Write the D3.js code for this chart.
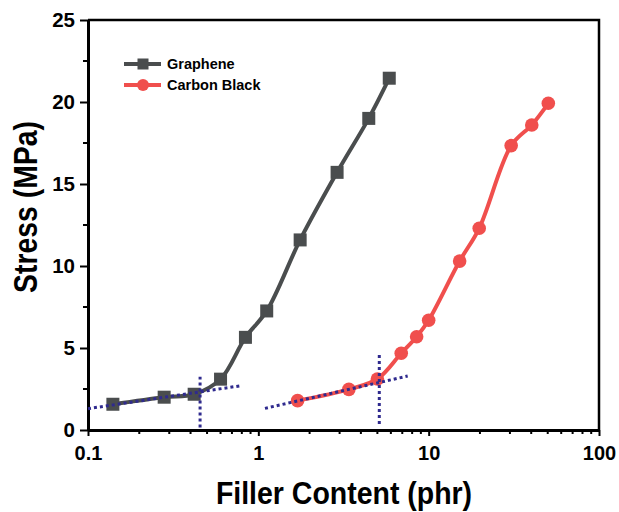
<!DOCTYPE html>
<html>
<head>
<meta charset="utf-8">
<script src="https://cdn.jsdelivr.net/npm/d3@7"></script>
<style>
  html, body { margin: 0; padding: 0; background: #fff; }
  svg { display: block; }
  text { font-family: "Liberation Sans", Arial, Helvetica, sans-serif; font-weight: bold; fill: #000; }
</style>
</head>
<body>
<svg id="chart" width="619" height="512"></svg>
<script>
// Filler content (phr) and tensile stress (MPa) for each filler
const grapheneX = [0.14, 0.28, 0.42, 0.6, 0.84, 1.12, 1.76, 2.9, 4.45, 5.87];
const grapheneY = [1.57, 2.0, 2.18, 3.1, 5.65, 7.26, 11.59, 15.71, 19.0, 21.45];
const carbonX = [1.7, 3.4, 5.0, 6.9, 8.5, 10, 15.2, 19.8, 30.5, 40.3, 50.4];
const carbonY = [1.79, 2.48, 3.11, 4.68, 5.69, 6.69, 10.3, 12.3, 17.34, 18.6, 19.92];

// Percolation guide lines: low-loading tangent and threshold marker
const grapheneTangent = [[0.1, 1.3], [0.79, 2.7]];
const grapheneThreshold = [[0.455, 0.16], [0.455, 3.25]];
const carbonTangent = [[1.094, 1.32], [7.53, 3.29]];
const carbonThreshold = [[5.13, 0.37], [5.13, 4.57]];

const xTicks = [0.1, 1, 10, 100];
const xTickLabels = ["0.1", "1", "10", "100"];
const yTicks = [0, 5, 10, 15, 20, 25];
const yMinorTicks = [2.5, 7.5, 12.5, 17.5, 22.5];

const seriesNames = ["Graphene", "Carbon Black"];
const seriesColors = ["#4a4d4e", "#f04f4d"];
const guideColor = "#2f2a8e";

const svg = d3.select("#chart");
const margin = { left: 88, right: 20, top: 20, bottom: 82 };
const W = 619, H = 512;

const x = d3.scaleLog().domain([0.1, 100]).range([margin.left, W - margin.right]);
const y = d3.scaleLinear().domain([0, 25]).range([H - margin.bottom, margin.top]);

const x0 = x.range()[0], x1 = x.range()[1];
const y0 = y.range()[0], y1 = y.range()[1];

// Frame: top and right edges
svg.append("path")
  .attr("d", `M${x0},${y1}H${x1}V${y0}`)
  .attr("fill", "none").attr("stroke", "#000").attr("stroke-width", 2.5);

// Bottom axis with decade labels and minor ticks
const minorX = [];
for (let d = 0.1; d < 100; d *= 10) {
  for (let m = 2; m <= 9; m++) minorX.push(+(d * m).toPrecision(3));
}
const xAxis = svg.append("g").attr("transform", `translate(0,${y0})`)
  .call(d3.axisBottom(x).tickValues(xTicks).tickFormat((d, i) => xTickLabels[i])
    .tickSize(6).tickSizeOuter(0).tickPadding(10));
xAxis.select(".domain").attr("stroke-width", 3);
xAxis.selectAll(".tick line").attr("stroke-width", 2);
xAxis.selectAll(".tick text").attr("font-size", 20).attr("font-weight", "bold")
  .attr("font-family", "Liberation Sans, Arial, sans-serif").attr("fill", "#000");
xAxis.selectAll(".minor").data(minorX).enter().append("line")
  .attr("class", "minor")
  .attr("x1", d => x(d)).attr("x2", d => x(d))
  .attr("y1", 0).attr("y2", 4)
  .attr("stroke", "#000").attr("stroke-width", 2);

// Left axis
const yAxis = svg.append("g").attr("transform", `translate(${x0},0)`)
  .call(d3.axisLeft(y).tickValues(yTicks).tickSize(8).tickSizeOuter(0).tickPadding(5));
yAxis.select(".domain").attr("stroke-width", 3);
yAxis.selectAll(".tick line").attr("stroke-width", 2);
yAxis.selectAll(".tick text").attr("font-size", 20.5).attr("font-weight", "bold")
  .attr("font-family", "Liberation Sans, Arial, sans-serif").attr("fill", "#000");
yAxis.selectAll(".minor").data(yMinorTicks).enter().append("line")
  .attr("class", "minor")
  .attr("x1", 0).attr("x2", -5)
  .attr("y1", d => y(d)).attr("y2", d => y(d))
  .attr("stroke", "#000").attr("stroke-width", 2);

// Axis titles (tall, slightly condensed lettering)
svg.append("text")
  .attr("transform", "translate(344,504) scale(0.89,1)")
  .attr("text-anchor", "middle").attr("font-size", 32)
  .text("Filler Content (phr)");
svg.append("text")
  .attr("transform", "translate(37,207) rotate(-90) scale(0.86,1)")
  .attr("text-anchor", "middle").attr("font-size", 33)
  .text("Stress (MPa)");

// Data curves
const line = d3.line().x(d => x(d[0])).y(d => y(d[1])).curve(d3.curveCatmullRom.alpha(0.5));
const gData = grapheneX.map((v, i) => [v, grapheneY[i]]);
const cData = carbonX.map((v, i) => [v, carbonY[i]]);

svg.append("path").datum(gData).attr("d", line)
  .attr("fill", "none").attr("stroke", seriesColors[0]).attr("stroke-width", 4);
svg.append("path").datum(cData).attr("d", line)
  .attr("fill", "none").attr("stroke", seriesColors[1]).attr("stroke-width", 4);

const sq = 13;
svg.append("g").selectAll("rect").data(gData).enter().append("rect")
  .attr("x", d => x(d[0]) - sq / 2).attr("y", d => y(d[1]) - sq / 2)
  .attr("width", sq).attr("height", sq).attr("fill", seriesColors[0]);
svg.append("g").selectAll("circle").data(cData).enter().append("circle")
  .attr("cx", d => x(d[0])).attr("cy", d => y(d[1])).attr("r", 6.8)
  .attr("fill", seriesColors[1]);

// Dotted guide lines
const straight = d3.line().x(d => x(d[0])).y(d => y(d[1]));
[grapheneTangent, grapheneThreshold, carbonTangent, carbonThreshold].forEach(seg => {
  svg.append("path").datum(seg).attr("d", straight)
    .attr("fill", "none").attr("stroke", guideColor)
    .attr("stroke-width", 3).attr("stroke-dasharray", "3,3");
});

// Legend
const legend = svg.append("g");
const legendRows = [64, 85];
seriesNames.forEach((name, i) => {
  const ly = legendRows[i];
  legend.append("line").attr("x1", 124).attr("x2", 161).attr("y1", ly).attr("y2", ly)
    .attr("stroke", seriesColors[i]).attr("stroke-width", 4);
  if (i === 0) {
    legend.append("rect").attr("x", 143 - 5.5).attr("y", ly - 5.5)
      .attr("width", 11).attr("height", 11).attr("fill", seriesColors[i]);
  } else {
    legend.append("circle").attr("cx", 143).attr("cy", ly).attr("r", 6)
      .attr("fill", seriesColors[i]);
  }
  legend.append("text").attr("x", 167).attr("y", ly + 5)
    .attr("font-size", 14.5).text(name);
});
</script>
</body>
</html>
